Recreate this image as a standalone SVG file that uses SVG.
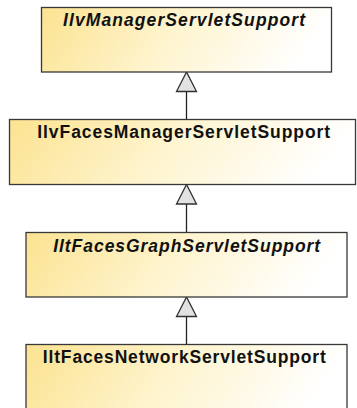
<svg xmlns="http://www.w3.org/2000/svg" width="357" height="408" viewBox="0 0 357 408">
  <defs>
    <linearGradient id="classFill" x1="0" y1="0" x2="1" y2="0.15">
      <stop offset="0" stop-color="#FCE391"/>
      <stop offset="0.5" stop-color="#FEF4CE"/>
      <stop offset="1" stop-color="#FFFFFF"/>
    </linearGradient>
  </defs>
  <style>
    .box { fill: url(#classFill); stroke: #383838; stroke-width: 1.3; }
    .name { font-family: "Liberation Sans", Arial, sans-serif; font-weight: bold; font-size: 17.5px; fill: #111; text-anchor: middle; }
    .abstract { font-style: italic; }
    .edge { stroke: #222; stroke-width: 1.3; fill: none; }
    .head { fill: #E2E2E2; stroke: #303030; stroke-width: 1.3; stroke-linejoin: miter; }
  </style>

  <rect width="357" height="408" fill="#FFFFFF"/>

  <!-- generalization connectors -->
  <g id="connectors">
    <line class="edge" x1="186.5" y1="91.5" x2="186.5" y2="119.5"/>
    <polygon class="head" points="186.5,72 176.5,91.5 196.5,91.5"/>
    <line class="edge" x1="186.5" y1="204" x2="186.5" y2="232.5"/>
    <polygon class="head" points="186.5,184.5 176.5,204 196.5,204"/>
    <line class="edge" x1="186.5" y1="316.5" x2="186.5" y2="344.5"/>
    <polygon class="head" points="186.5,297 176.5,316.5 196.5,316.5"/>
  </g>

  <g id="IlvManagerServletSupport">
    <rect class="box" x="41.5" y="7.5" width="290" height="64.5"/>
    <text class="name abstract" x="184" y="25.5" textLength="242" lengthAdjust="spacing">IlvManagerServletSupport</text>
  </g>

  <g id="IlvFacesManagerServletSupport">
    <rect class="box" x="9.5" y="119.5" width="346" height="65"/>
    <text class="name" x="183.7" y="138" textLength="293" lengthAdjust="spacing">IlvFacesManagerServletSupport</text>
  </g>

  <g id="IltFacesGraphServletSupport">
    <rect class="box" x="26" y="232.5" width="321" height="64.5"/>
    <text class="name abstract" x="186.7" y="251.5" textLength="267" lengthAdjust="spacing">IltFacesGraphServletSupport</text>
  </g>

  <g id="IltFacesNetworkServletSupport">
    <rect class="box" x="26" y="344.5" width="321" height="72"/>
    <text class="name" x="184.3" y="363" textLength="283" lengthAdjust="spacing">IltFacesNetworkServletSupport</text>
  </g>
</svg>
